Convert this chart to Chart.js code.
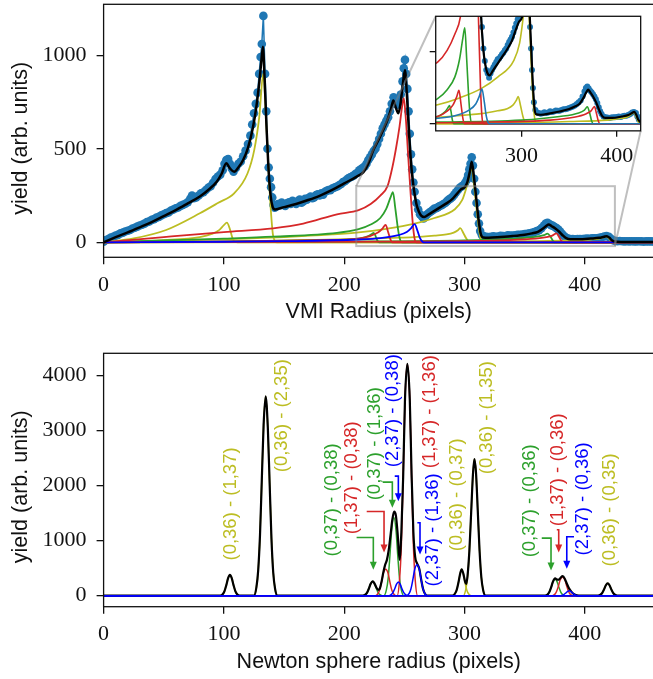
<!DOCTYPE html>
<html>
<head>
<meta charset="utf-8">
<script src="https://cdn.jsdelivr.net/npm/chart.js@4.4.1/dist/chart.umd.min.js"></script>
<style>
  html, body { margin: 0; padding: 0; background: #fff; overflow: hidden; }
  #wrap { position: relative; width: 653px; height: 679px; overflow: hidden; }
  canvas { position: absolute; left: 0; }
  #top, #inset { top: 0; }
  #bottom { top: 345px; }
</style>
</head>
<body>
<div id="wrap">
  <canvas id="top" width="660" height="345"></canvas>
  <canvas id="inset" width="660" height="345"></canvas>
  <canvas id="bottom" width="660" height="345"></canvas>
</div>
<script>
// ---- tick values ----
const xTicks = [0, 100, 200, 300, 400];
const topYTicks = [0, 500, 1000];
const bottomYTicks = [0, 1000, 2000, 3000, 4000];
const insetXTicks = [300, 400];
const insetYTicks = [0, 200];

// ---- top panel: measured yield vs VMI radius ----
const measured = [[0,3],[2,12],[4,18],[6,25],[8,30],[10,36],[12,40],[14,48],[16,52],[18,58],[20,62],[22,66],[24,74],[26,78],[28,84],[30,90],[32,94],[34,100],[36,108],[38,112],[40,120],[42,124],[44,132],[46,136],[48,144],[50,150],[52,156],[54,160],[56,170],[58,175],[60,182],[62,186],[64,195],[66,200],[68,206],[70,215],[72,232],[73.5,250],[75,236],[77,240],[79,250],[81,262],[83,268],[85,280],[87,292],[89,300],[91,318],[93,338],[95,352],[97,362],[99,385],[100.5,420],[102,440],[103.5,445],[105,420],[106.5,395],[108,378],[110,398],[112,420],[114,432],[116,460],[118,490],[120,525],[122,570],[123.5,630],[125,690],[126.5,740],[128,800],[129.3,900],[130.5,990],[131.5,1060],[132.8,1210],[134.2,900],[135.2,700],[136.2,500],[137.2,400],[138.2,340],[139.2,295],[140.2,240],[141.2,200],[142.2,185],[143.5,190],[145,205],[146.5,198],[148,212],[149.5,200],[151,195],[152.5,208],[154,214],[155.5,205],[157,222],[158.5,212],[160,205],[161.5,220],[163,228],[164.5,212],[166,218],[167.5,232],[169,228],[170.5,238],[172,244],[173.5,236],[175,240],[176.5,252],[178,256],[179.5,250],[181,262],[182.5,255],[184,270],[185.5,275],[187,280],[188.5,278],[190,288],[191.5,292],[193,296],[194.5,300],[196,306],[197.5,312],[199,322],[200.5,326],[202,334],[203.5,342],[205,348],[206.5,352],[208,358],[209.5,366],[211,372],[212.5,385],[214,392],[215.5,398],[217,405],[218.5,420],[220,440],[221.5,455],[223,470],[224.5,488],[226,500],[227.5,525],[229,552],[230.5,580],[232,610],[233.5,630],[235,650],[236.5,668],[238,700],[239.5,740],[241,775],[242.5,760],[244,735],[245.5,750],[247,790],[248.5,860],[249.5,930],[250.5,975],[251.5,900],[252.5,820],[253.5,700],[254.5,580],[255.5,470],[256.5,390],[257.5,320],[258.5,270],[260,210],[261.5,175],[263,150],[264.5,140],[266,128],[267.5,140],[269,150],[270.5,158],[272,165],[273.5,172],[275,180],[276.5,182],[278,188],[279.5,194],[281,198],[282.5,205],[284,210],[285.5,220],[287,228],[288.5,235],[290,243],[291.5,255],[293,268],[294.5,280],[296,292],[297.5,298],[299,305],[300.5,318],[302,335],[303,360],[304,390],[305,420],[306,455],[307,410],[308,340],[309,270],[310,210],[311,150],[312,100],[313,60],[314.5,38],[316,32],[318,30],[320,28],[322,29],[324,32],[326,30],[328,31],[330,35],[332,33],[334,34],[336,37],[338,36],[340,36],[342,38],[344,40],[346,40],[348,42],[350,44],[352,46],[354,48],[356,51],[358,55],[360,60],[362,65],[364,76],[366,90],[367.5,100],[369,104],[370.5,98],[372,92],[373.5,88],[375,82],[376.5,76],[378,68],[379.5,58],[381,46],[382.5,35],[384,27],[386,20],[388,18],[390,17],[392,16],[394,17],[396,18],[398,18],[400,19],[402,20],[404,19],[406,21],[408,22],[410,22],[412,24],[414,27],[416,31],[418,33],[420,30],[421.5,20],[423,12],[425,8],[427,6],[429,7],[431,6],[433,5],[435,6],[437,5],[439,6],[441,5],[443,5],[445,6],[447,5],[449,4],[451,5],[453,5],[455,5],[457,4]];

const fitTotal = [[0,0],[10,28],[20,53],[30,80],[40,108],[50,140],[60,172],[70,208],[80,245],[88,285],[94,324],[98,365],[102,422],[105,395],[108.5,377],[112,400],[116,440],[120,505],[124,610],[127,725],[129.5,860],[131,960],[132.4,1045],[133.8,880],[135.4,620],[137,400],[138.8,250],[140.5,190],[142.5,176],[150,188],[160,205],[170,226],[180,250],[190,280],[200,315],[210,350],[216,375],[220,420],[224,490],[228,540],[232,595],[236,655],[239,715],[240.8,758],[243,718],[245,690],[247,750],[249,860],[250.5,920],[252,800],[254,570],[256,390],[258,280],[260,205],[262,165],[264,143],[266.5,135],[270,148],[275,168],[280,188],[285,208],[290,232],[294,262],[297,283],[300.5,297],[302.5,325],[304.5,380],[306,430],[307.8,350],[309.5,250],[311.5,130],[313.5,45],[315.5,26],[320,25],[330,29],[340,34],[350,41],[356,48],[361,56],[365,72],[368,88],[370,95],[372.5,86],[375.5,74],[378.5,58],[381.5,38],[384.5,22],[388,16],[395,16],[405,20],[412,24],[416,30],[418.3,33],[420.5,24],[422.5,11],[425,4],[430,2],[440,2],[457.5,2]];

const fitYellow132 = [[0,0],[25,21],[52,66],[80,155],[95,210],[108.5,262],[119.6,368],[125.2,493],[129.4,670],[132.7,902],[135,670],[137.8,297],[140.6,48],[142,12],[144,0],[457.5,0]];
const fitYellow102 = [[0,0],[50,12],[80,28],[90,45],[96,65],[100,92],[102.5,105],[105,70],[107,25],[109,3],[115,0],[457.5,0]];
const fitYellow306 = [[0,0],[50,8],[100,16],[150,28],[190,42],[212,53],[235,72],[257.6,98],[275,130],[292,177],[298,225],[301,280],[303.5,340],[305.8,400],[308,300],[310.5,150],[312.5,50],[314.5,5],[316,0],[457.5,0]];
const fitYellow296 = [[0,0],[100,5],[150,9],[212,18],[240,24],[257.6,28],[275,36],[285,42],[291,52],[294.5,65],[296.5,76],[299,50],[301.5,20],[303.5,3],[305,0],[457.5,0]];
const fitYellow418 = [[0,0],[300,3],[350,6],[390,10],[405,15],[412,20],[418,31],[420.5,18],[422.5,5],[424,0],[457.5,0]];
const fitRed250 = [[0,0],[50,28],[100,55],[141,75],[166,100],[194,150],[212,172],[222,205],[230,250],[236,300],[240,400],[243,500],[246,620],[248,720],[249.5,770],[251,680],[253,480],[255,280],[257,100],[258.5,20],[260,0],[457.5,0]];
const fitRed234 = [[0,0],[100,4],[180,12],[212,20],[222,35],[228,52],[232,75],[234.4,93],[236.5,55],[238.5,15],[240,0],[457.5,0]];
const fitRed376 = [[0,0],[250,4],[330,10],[355,18],[368,28],[373,36],[376.5,48],[378.5,30],[380.5,8],[382,0],[457.5,0]];
const fitGreen240 = [[0,0],[50,10],[100,20],[141,30],[194,50],[212,70],[222,95],[230,130],[235,180],[238.5,240],[240.5,268],[242.5,180],[244.5,80],[246,25],[248,0],[457.5,0]];
const fitGreen224 = [[0,0],[100,4],[180,11],[205,16],[215,24],[220,34],[223,45],[224.5,51],[226,35],[227.5,10],[229,0],[457.5,0]];
const fitGreen370 = [[0,0],[200,4],[300,10],[340,20],[360,30],[366,38],[369,47],[371.5,30],[373.5,8],[375,0],[457.5,0]];
const fitBlue258 = [[0,0],[100,3],[150,6],[212,15],[230,22],[245,38],[252,55],[255.5,75],[258.5,97],[261,60],[263,22],[265,3],[266,0],[457.5,0]];

// ---- bottom panel: Newton sphere radius distributions ----
const nsTotal = [[0,0],[97,0],[99,26],[100.5,83],[102,192],[103.5,320],[105,376],[106.5,320],[108,192],[109.5,83],[111,26],[113,0],[125,0],[127,150],[128.5,460],[130,1100],[131.5,2100],[133,3100],[134.7,3620],[136.5,3050],[138,2050],[139.5,1050],[141,420],[142.5,130],[144.5,0],[215.5,0],[217.5,18],[219,55],[220.5,130],[222,215],[223.7,260],[225.2,220],[226.7,150],[228.2,105],[229.5,125],[231,250],[232.5,420],[234,560],[235.5,650],[237,830],[238.5,1100],[240,1380],[241.5,1525],[243,1450],[244.5,1100],[246,650],[247.5,1150],[249,2150],[250.5,3550],[252.5,4210],[254.5,3560],[256,2200],[257.5,1150],[259,700],[260.5,590],[262.5,480],[264,290],[265.5,125],[267,40],[269,0],[290,0],[292,35],[293.5,105],[295,245],[296.5,410],[297.6,480],[299,400],[300.5,250],[301.5,215],[302.5,360],[304,800],[305.5,1500],[307,2200],[308.2,2480],[309.5,2250],[311,1550],[312.5,820],[314,330],[315.5,100],[317.5,0],[367,0],[369,20],[370.5,65],[372,150],[373.5,255],[375.3,315],[377,290],[378.5,290],[380,330],[381.6,355],[383.5,300],[385,220],[386.5,150],[388,95],[390,45],[392,15],[395,0],[411,0],[413,17],[414.5,50],[416,115],[417.5,190],[419,225],[420.5,190],[422,115],[423.5,50],[425,17],[427,0],[457.5,0]];

const ns_0_36_1_37 = [[0,0],[97,0],[99,26],[100.5,83],[102,192],[103.5,320],[105,376],[106.5,320],[108,192],[109.5,83],[111,26],[113,0],[457.5,0]];
const ns_0_36_2_35 = [[0,0],[125,0],[127,150],[128.5,460],[130,1100],[131.5,2100],[133,3100],[134.7,3620],[136.5,3050],[138,2050],[139.5,1050],[141,420],[142.5,130],[144.5,0],[457.5,0]];
const ns_0_36_0_37 = [[0,0],[290,0],[292,35],[293.5,105],[295,245],[296.5,410],[297.6,480],[299,400],[300.5,230],[302,95],[303.5,30],[305.5,0],[457.5,0]];
const ns_0_36_1_35 = [[0,0],[299,0],[301,110],[302.5,330],[304,800],[305.5,1500],[307,2200],[308.2,2480],[309.5,2250],[311,1550],[312.5,820],[314,330],[315.5,100],[317.5,0],[457.5,0]];
const ns_0_36_0_35 = [[0,0],[411,0],[413,17],[414.5,50],[416,115],[417.5,190],[419,225],[420.5,190],[422,115],[423.5,50],[425,17],[427,0],[457.5,0]];
const ns_0_37_0_38 = [[0,0],[215.5,0],[217.5,18],[219,55],[220.5,130],[222,215],[223.7,260],[225.2,215],[226.7,130],[228.2,55],[229.7,18],[231.5,0],[457.5,0]];
const ns_0_37_1_36 = [[0,0],[233,0],[235,100],[236.5,310],[238,730],[239.5,1200],[241.3,1420],[243,1200],[244.5,730],[246,310],[247.5,100],[249.5,0],[457.5,0]];
const ns_0_37_0_36 = [[0,0],[367,0],[369,20],[370.5,65],[372,150],[373.5,250],[375.3,300],[377,250],[378.5,150],[380,65],[381.5,20],[383.5,0],[457.5,0]];
const ns_1_37_0_38 = [[0,0],[226,0],[228,35],[229.5,105],[231,245],[232.5,405],[234.5,480],[236.5,405],[238,245],[239.5,105],[241,35],[243,0],[457.5,0]];
const ns_1_37_1_36 = [[0,0],[244,0],[246,290],[247.5,920],[249,2150],[250.5,3550],[252.5,4200],[254.5,3550],[256,2150],[257.5,920],[259,290],[261,0],[457.5,0]];
const ns_1_37_0_36 = [[0,0],[373,0],[375,24],[376.5,75],[378,170],[379.5,285],[381.5,340],[383.5,285],[385,170],[386.5,75],[388,24],[390,0],[457.5,0]];
const ns_2_37_0_38 = [[0,0],[237,0],[239,18],[240.5,55],[242,125],[243.5,210],[245,250],[246.5,210],[248,125],[249.5,55],[251,18],[253,0],[457.5,0]];
const ns_2_37_1_36 = [[0,0],[252,0],[254,40],[255.5,125],[257,285],[258.5,470],[260.5,560],[262.5,470],[264,285],[265.5,125],[267,40],[269,0],[457.5,0]];
const ns_2_37_0_36 = [[0,0],[379,0],[381,6],[382.5,20],[384,45],[385.5,75],[387,90],[388.5,75],[390,45],[391.5,20],[393,6],[395,0],[457.5,0]];

const OLIVE = '#bcbd22', RED = '#d62728', GREEN = '#2ca02c', BLUE = '#0000ff', TAB_BLUE = '#1f77b4';

// labels of the transitions (anchored in data units of the lower panel)
const notes = [
  { t: '(0,36) - (1,37)', c: OLIVE, x: 105.6, y: 1665 },
  { t: '(0,36) - (2,35)', c: OLIVE, x: 148, y: 3267 },
  { t: '(0,37) - (0,38)', c: GREEN, x: 190.1, y: 1740 },
  { t: '(1,37) - (0,38)', c: RED, x: 206.2, y: 2140 },
  { t: '(0,37) - (1,36)', c: GREEN, x: 225.6, y: 2758 },
  { t: '(2,37) - (0,38)', c: BLUE, x: 240.8, y: 3358 },
  { t: '(1,37) - (1,36)', c: RED, x: 271.3, y: 3340 },
  { t: '(2,37) - (1,36)', c: BLUE, x: 274.1, y: 1195 },
  { t: '(0,36) - (0,37)', c: OLIVE, x: 293.5, y: 1831 },
  { t: '(0,36) - (1,35)', c: OLIVE, x: 318.5, y: 3231 },
  { t: '(0,37) - (0,36)', c: GREEN, x: 354.4, y: 1722 },
  { t: '(1,37) - (0,36)', c: RED, x: 378, y: 2285 },
  { t: '(2,37) - (0,36)', c: BLUE, x: 398.8, y: 1758 },
  { t: '(0,36) - (0,35)', c: OLIVE, x: 421, y: 1558 },
];
const arrows = [
  { c: GREEN, p: [[210.3, 1056], [224.2, 1056], [224.2, 469]] },
  { c: RED, p: [[218.7, 1529], [233.1, 1529], [233.1, 783]] },
  { c: GREEN, p: [[232, 2062], [240, 2062], [240, 1596]] },
  { c: BLUE, p: [[242, 2171], [245, 2171], [245, 1716]] },
  { c: BLUE, p: [[260.8, 1324], [263, 1324], [263, 749]] },
  { c: GREEN, p: [[364.2, 1045], [371.9, 1045], [371.9, 456]] },
  { c: RED, p: [[376.7, 1196], [378.3, 1196], [378.3, 783]] },
  { c: BLUE, p: [[391, 1069], [385, 1069], [385, 487]] },
];

// zoomed region and where the inset sits (fractions of the main plot area)
const zoomX = [210, 425];
const zoomY = [-20, 300];
const INSET = { left: 0.6034, right: 0.9758, top: 0.0474, bottom: 0.5002 };

const TICK_FONT = { family: "'Liberation Serif', 'DejaVu Serif', serif", size: 22 };
const TITLE_FONT = { family: "'Liberation Sans', 'DejaVu Sans', sans-serif", size: 21.5 };
const INK = '#111';

function pts(pairs) {
  return pairs.map((p) => ({ x: p[0], y: p[1] }));
}

function curve(pairs, color, width) {
  return {
    data: pts(pairs),
    borderColor: color,
    borderWidth: width,
    pointRadius: 0,
    fill: false,
    cubicInterpolationMode: 'monotone',
  };
}

function axis(min, max, ticks, o) {
  return {
    type: 'linear',
    min: min,
    max: max,
    afterBuildTicks: (s) => { s.ticks = ticks.map((v) => ({ value: v })); },
    grid: { drawOnChartArea: false, drawTicks: true, tickLength: o.tl, color: INK, lineWidth: 1.3 },
    border: { display: false },
    ticks: {
      display: o.labels !== false,
      font: TICK_FONT,
      color: INK,
      padding: o.pad,
      maxRotation: 0,
      autoSkip: false,
      callback: (v) => String(v),
    },
    title: o.title
      ? { display: true, text: o.title, font: TITLE_FONT, color: INK, padding: { top: 0, bottom: o.titlePad } }
      : { display: false },
    afterFit: (s) => {
      if (s.isHorizontal()) s.height = o.size; else s.width = o.size;
      s.paddingTop = 0; s.paddingBottom = 0; s.paddingLeft = 0; s.paddingRight = 0;
    },
  };
}

const framePlugin = {
  id: 'frame',
  afterDraw(chart) {
    const a = chart.chartArea, ctx = chart.ctx;
    ctx.save();
    ctx.strokeStyle = INK;
    ctx.lineWidth = 1.3;
    ctx.strokeRect(a.left, a.top, a.right - a.left, a.bottom - a.top);
    ctx.restore();
  },
};

const yTitlePlugin = {
  id: 'yTitle',
  afterDraw(chart, args, opts) {
    const a = chart.chartArea, ctx = chart.ctx;
    ctx.save();
    ctx.translate(opts.x, (a.top + a.bottom) / 2 + opts.shift);
    ctx.rotate(-Math.PI / 2);
    ctx.font = TITLE_FONT.size + 'px ' + TITLE_FONT.family;
    ctx.fillStyle = INK;
    ctx.textAlign = 'center';
    ctx.textBaseline = 'middle';
    ctx.fillText(opts.text, 0, 0);
    ctx.restore();
  },
};

function insetBox(a) {
  const w = a.right - a.left, h = a.bottom - a.top;
  return {
    left: a.left + INSET.left * w,
    right: a.left + INSET.right * w,
    top: a.top + INSET.top * h,
    bottom: a.top + INSET.bottom * h,
  };
}

// gray box on the zoomed region + connectors to the inset
const indicatePlugin = {
  id: 'indicate',
  afterDatasetsDraw(chart) {
    const ctx = chart.ctx, xs = chart.scales.x, ys = chart.scales.y;
    const x0 = xs.getPixelForValue(zoomX[0]), x1 = xs.getPixelForValue(zoomX[1]);
    const y0 = ys.getPixelForValue(zoomY[1]), y1 = ys.getPixelForValue(zoomY[0]);
    const b = insetBox(chart.chartArea);
    ctx.save();
    ctx.strokeStyle = 'rgba(128,128,128,0.5)';
    ctx.lineWidth = 2;
    ctx.strokeRect(x0, y0, x1 - x0, y1 - y0);
    ctx.beginPath();
    ctx.moveTo(x0, y0); ctx.lineTo(b.left, b.top);
    ctx.moveTo(x1, y1); ctx.lineTo(b.right, b.bottom);
    ctx.stroke();
    ctx.restore();
  },
};

function topDatasets(inset) {
  const w = inset ? 1.6 : 1.8;
  return [
    curve(fitTotal, '#000', inset ? 2.2 : 2.5),
    curve(fitBlue258, inset ? TAB_BLUE : BLUE, w),
    curve(fitRed250, RED, w),
    curve(fitRed234, RED, w),
    curve(fitRed376, RED, w),
    curve(fitGreen240, GREEN, w),
    curve(fitGreen224, GREEN, w),
    curve(fitGreen370, GREEN, w),
    curve(fitYellow132, OLIVE, w),
    curve(fitYellow102, OLIVE, w),
    curve(fitYellow306, OLIVE, w),
    curve(fitYellow296, OLIVE, w),
    curve(fitYellow418, OLIVE, w),
    {
      data: pts(measured),
      borderColor: TAB_BLUE,
      backgroundColor: TAB_BLUE,
      borderWidth: 1.5,
      pointRadius: inset ? 3 : 4.3,
      pointBorderWidth: 0,
      pointBackgroundColor: TAB_BLUE,
      tension: 0,
      fill: false,
    },
  ];
}

const common = {
  responsive: false,
  animation: false,
  devicePixelRatio: 1,
  events: [],
  plugins: { legend: { display: false }, tooltip: { enabled: false } },
};

// ---- main top chart ----
const mainChart = new Chart(document.getElementById('top'), {
  type: 'line',
  data: { datasets: topDatasets(false) },
  options: Object.assign({}, common, {
    layout: { padding: { left: 0, top: 4, right: 6, bottom: 0 } },
    plugins: Object.assign({}, common.plugins, { yTitle: { text: 'yield (arb. units)', x: 20.8, shift: 7.5 } }),
    scales: {
      x: axis(0, 457.5, xTicks, { tl: 7, pad: 7.5, size: 87.7, title: 'VMI Radius (pixels)', titlePad: 19.8 }),
      y: axis(-80, 1272, topYTicks, { tl: 7, pad: 10, size: 103.6 }),
    },
  }),
  plugins: [indicatePlugin, framePlugin, yTitlePlugin],
});

// ---- inset over the top chart ----
const box = insetBox(mainChart.chartArea);
const INSET_Y_W = 8, INSET_X_H = 44;
new Chart(document.getElementById('inset'), {
  type: 'line',
  data: { datasets: topDatasets(true) },
  options: Object.assign({}, common, {
    layout: {
      padding: {
        left: box.left - INSET_Y_W,
        top: box.top,
        right: 660 - box.right,
        bottom: 345 - box.bottom - INSET_X_H,
      },
    },
    scales: {
      x: axis(zoomX[0], zoomX[1], insetXTicks, { tl: 6, pad: 6, size: INSET_X_H }),
      y: axis(zoomY[0], zoomY[1], insetYTicks, { tl: 6, pad: 4, size: INSET_Y_W, labels: false }),
    },
  }),
  plugins: [
    {
      id: 'whiteBg',
      beforeDatasetsDraw(chart) {
        const a = chart.chartArea, ctx = chart.ctx;
        ctx.save();
        ctx.fillStyle = '#fff';
        ctx.fillRect(a.left, a.top, a.right - a.left, a.bottom - a.top);
        ctx.restore();
      },
    },
    framePlugin,
  ],
});

// ---- bottom chart ----
const notesPlugin = {
  id: 'notes',
  afterDraw(chart) {
    const ctx = chart.ctx, xs = chart.scales.x, ys = chart.scales.y;
    ctx.save();
    ctx.lineWidth = 1.6;
    for (const a of arrows) {
      const p = a.p.map((q) => [xs.getPixelForValue(q[0]), ys.getPixelForValue(q[1])]);
      const tip = p[p.length - 1];
      ctx.strokeStyle = a.c;
      ctx.fillStyle = a.c;
      ctx.beginPath();
      ctx.moveTo(p[0][0], p[0][1]);
      for (let i = 1; i < p.length - 1; i++) ctx.lineTo(p[i][0], p[i][1]);
      ctx.lineTo(tip[0], tip[1] - 6);
      ctx.stroke();
      ctx.beginPath();
      ctx.moveTo(tip[0], tip[1]);
      ctx.lineTo(tip[0] - 3.5, tip[1] - 8);
      ctx.lineTo(tip[0] + 3.5, tip[1] - 8);
      ctx.closePath();
      ctx.fill();
    }
    ctx.font = '18.5px ' + TITLE_FONT.family;
    ctx.textAlign = 'center';
    ctx.textBaseline = 'middle';
    for (const n of notes) {
      ctx.save();
      ctx.translate(xs.getPixelForValue(n.x), ys.getPixelForValue(n.y));
      ctx.rotate(-Math.PI / 2);
      ctx.fillStyle = n.c;
      ctx.fillText(n.t, 0, 0);
      ctx.restore();
    }
    ctx.restore();
  },
};

new Chart(document.getElementById('bottom'), {
  type: 'line',
  data: {
    datasets: [
      curve(ns_2_37_0_38, BLUE, 1.5),
      curve(ns_2_37_1_36, BLUE, 1.5),
      curve(ns_2_37_0_36, BLUE, 1.5),
      curve(nsTotal, '#000', 2.2),
      curve(ns_1_37_0_38, RED, 1.5),
      curve(ns_1_37_1_36, RED, 1.5),
      curve(ns_1_37_0_36, RED, 1.5),
      curve(ns_0_37_0_38, GREEN, 1.5),
      curve(ns_0_37_1_36, GREEN, 1.5),
      curve(ns_0_37_0_36, GREEN, 1.5),
      curve(ns_0_36_1_37, OLIVE, 1.5),
      curve(ns_0_36_2_35, OLIVE, 1.5),
      curve(ns_0_36_0_37, OLIVE, 1.5),
      curve(ns_0_36_1_35, OLIVE, 1.5),
      curve(ns_0_36_0_35, OLIVE, 1.5),
    ],
  },
  options: Object.assign({}, common, {
    layout: { padding: { left: 0, top: 8.3, right: 6, bottom: 0 } },
    plugins: Object.assign({}, common.plugins, { yTitle: { text: 'yield (arb. units)', x: 20.8, shift: 6.7 } }),
    scales: {
      x: axis(0, 457.5, xTicks, { tl: 7, pad: 7.5, size: 83.3, title: 'Newton sphere radius (pixels)', titlePad: 15.4 }),
      y: axis(-200, 4400, bottomYTicks, { tl: 7, pad: 10, size: 103.6 }),
    },
  }),
  plugins: [framePlugin, yTitlePlugin, notesPlugin],
});
</script>
</body>
</html>
